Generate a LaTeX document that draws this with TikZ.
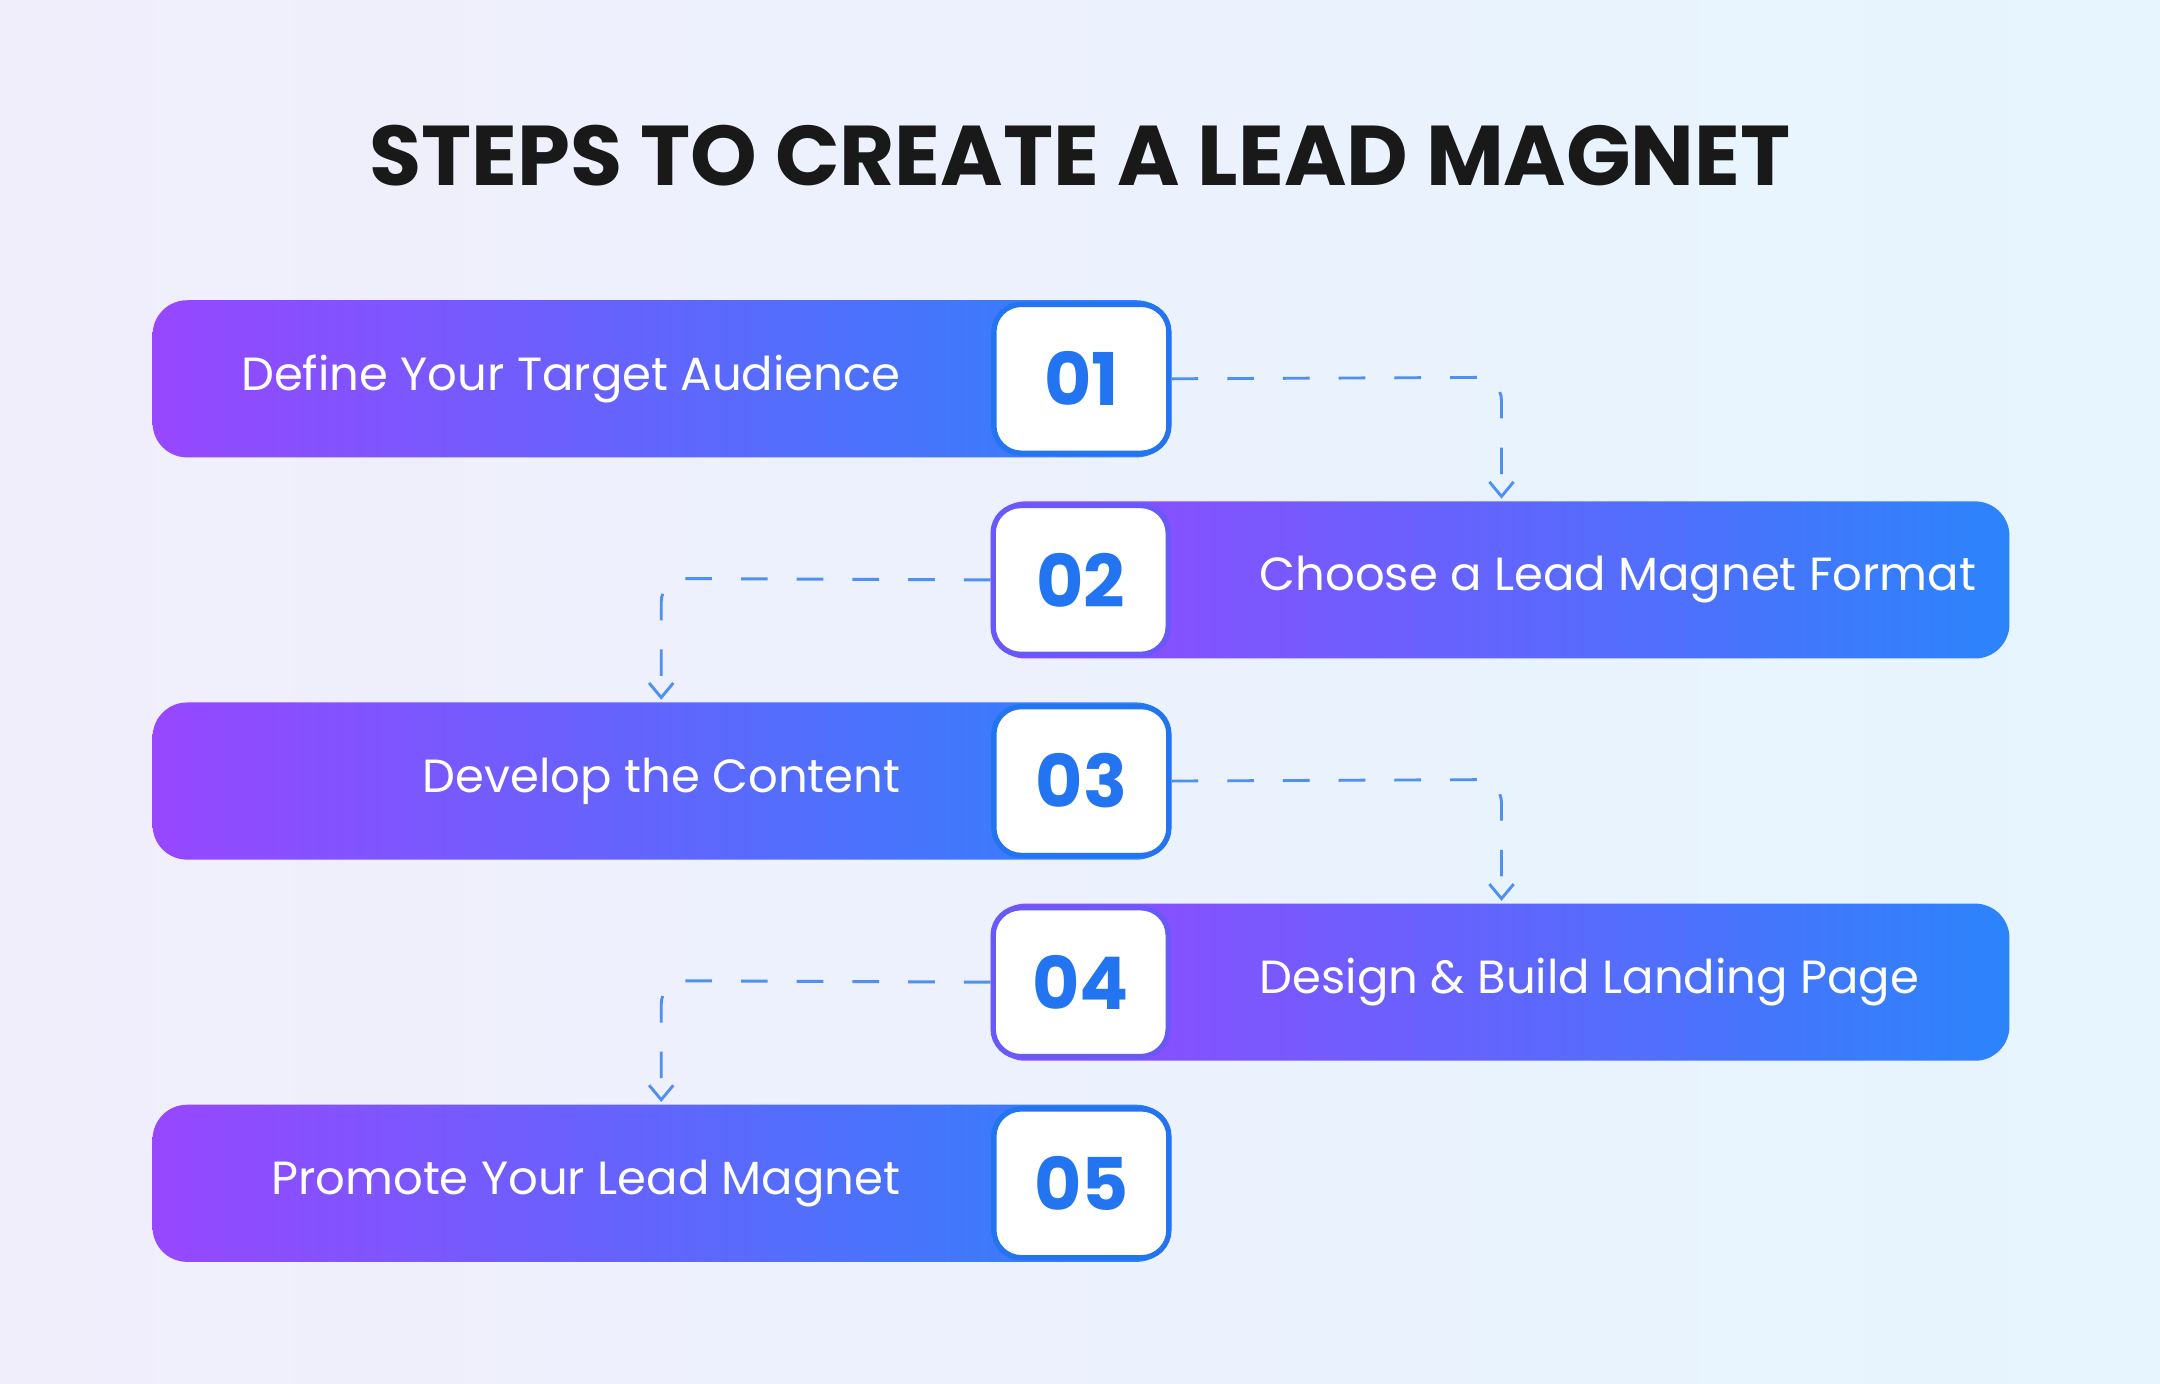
\documentclass[tikz,border=0pt]{standalone}
\usepackage{fontspec}
\setmainfont{Poppins}
\usetikzlibrary{arrows.meta}
\definecolor{pur}{HTML}{9747FF}
\definecolor{blu}{HTML}{2B84FB}
\definecolor{numc}{HTML}{2374F0}
\definecolor{bgA}{HTML}{F1EEFC}
\definecolor{bgB}{HTML}{E6F5FE}
\tikzset{
 x=0.01cm,y=-0.01cm,
 bar/.style={rectangle,rounded corners=0.25cm,minimum width=7.39cm,minimum height=1.14cm,inner sep=0pt,left color=pur,right color=blu},
 numbox/.style={rectangle,rounded corners=0.2cm,minimum width=1.27cm,minimum height=1.08cm,fill=white,draw=numc,line width=1.1pt,font=\bfseries\fontsize{15}{15}\selectfont,text=numc},
 numboxp/.style={numbox,draw=pur!60!numc},
 lab/.style={text=white,font=\fontsize{9.6}{10}\selectfont},
 conn/.style={draw=numc!80!white,line width=0.6pt,dash pattern=on 5.5pt off 6pt,-{Straight Barb[length=3pt,width=5pt]}}
}
\begin{document}
\begin{tikzpicture}
\shade[left color=bgA,right color=bgB] (0,0) rectangle (1568,1004);
\useasboundingbox (0,0) rectangle (1568,1004);
\node[font=\bfseries\fontsize{17.5}{18}\selectfont,text=black!90] (title) at (784,113) {STEPS TO CREATE A LEAD MAGNET};
% bars
\node[bar] (b1) at (480.5,275) {};
\node[bar] (b2) at (1089,421) {};
\node[bar] (b3) at (480.5,567) {};
\node[bar] (b4) at (1089,713) {};
\node[bar] (b5) at (480.5,859) {};
\node[numbox] (n1) at (785,275) {01};
\node[numboxp] (n2) at (784.5,421) {02};
\node[numbox] (n3) at (785,567) {03};
\node[numboxp] (n4) at (784.5,713) {04};
\node[numbox] (n5) at (785,859) {05};
\node[lab,anchor=east] (l1) at (666,275) {Define Your Target Audience};
\node[lab,anchor=west] (l2) at (902,421) {Choose a Lead Magnet Format};
\node[lab,anchor=east] (l3) at (666,567) {Develop the Content};
\node[lab,anchor=west] (l4) at (902,713) {Design \& Build Landing Page};
\node[lab,anchor=east] (l5) at (666,859) {Promote Your Lead Magnet};
% connectors
\draw[conn] (n1.east) -- (1073,274) to[out=0,in=90] (1090,291) -- (1090,362);
\draw[conn] (n2.west) -- (497,420) to[out=180,in=90] (480,437) -- (480,508);
\draw[conn] (n3.east) -- (1073,566) to[out=0,in=90] (1090,583) -- (1090,654);
\draw[conn] (n4.west) -- (497,712) to[out=180,in=90] (480,729) -- (480,800);
\end{tikzpicture}
\end{document}
